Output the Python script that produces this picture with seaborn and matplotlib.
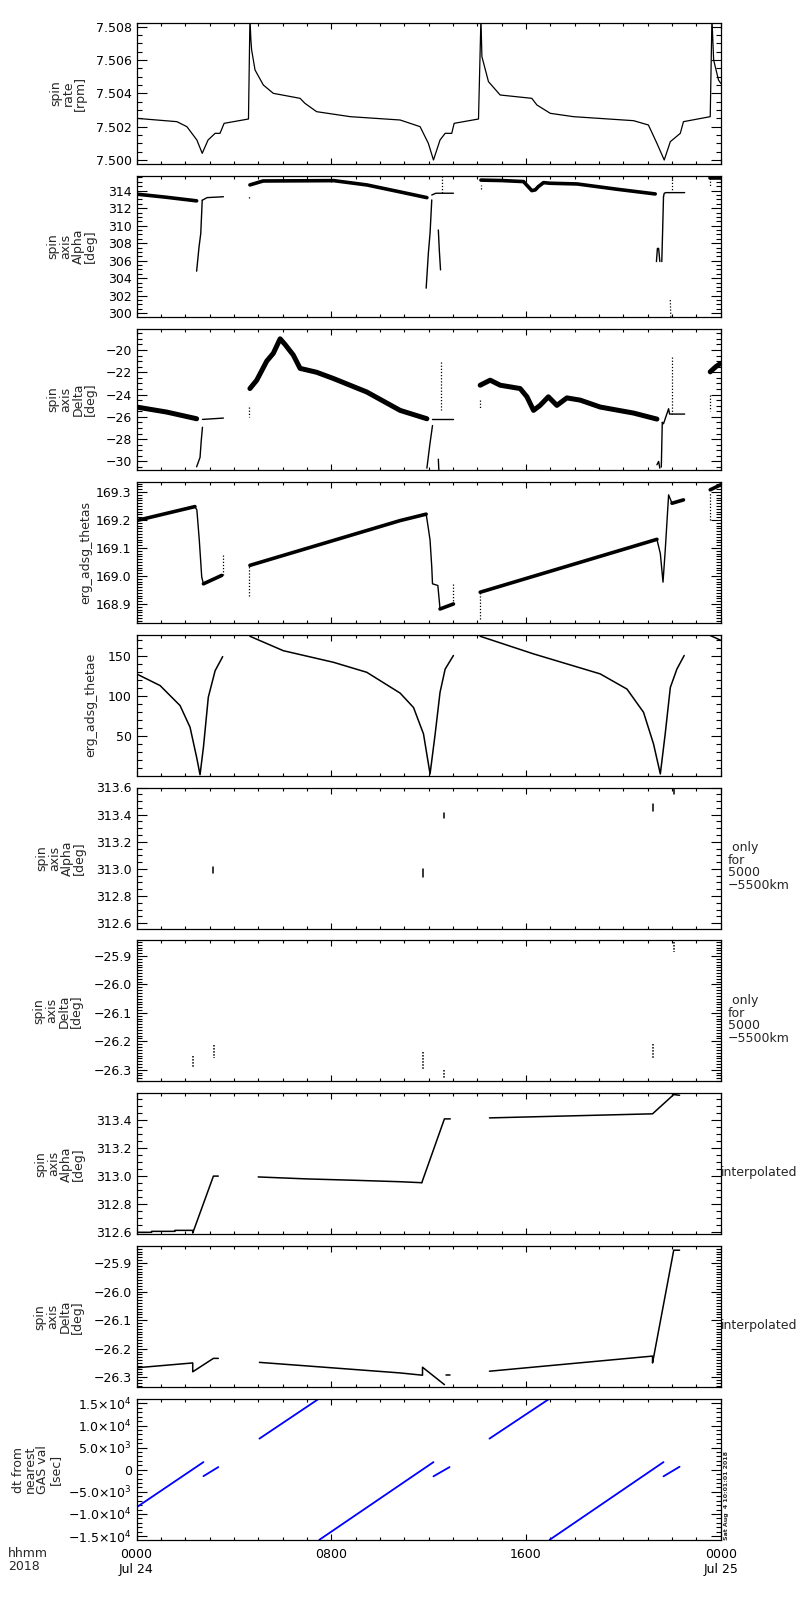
import numpy as np
import pandas as pd
import matplotlib
matplotlib.use("Agg")
import matplotlib.pyplot as plt
import matplotlib.ticker as mticker
import seaborn as sns


# ---- data (time in hours of 2018-07-24) ----

# spin rate [rpm]
rate_line = [
    ([0, 1.66, 2.07, 2.48, 2.70, 2.94, 3.23, 3.43, 3.60, 4.60, 4.66, 4.70, 4.73, 4.87, 5.21,
      5.62, 6.72, 6.92, 7.40, 8.78, 10.83, 11.65, 11.99, 12.20, 12.47, 12.68, 12.95, 13.05,
      14.05, 14.15, 14.19, 14.46, 14.94, 16.24, 16.45, 17.00, 17.95, 20.42, 21.03, 21.38,
      21.68, 21.93, 22.34, 22.47, 23.57, 23.64, 23.71, 23.91, 24.0],
     [7.5025, 7.5023, 7.5020, 7.5012, 7.5004, 7.5012, 7.5016, 7.5016, 7.5022, 7.50246,
      7.5085, 7.5072, 7.5066, 7.5054, 7.5045, 7.5040, 7.5037, 7.5034, 7.5029, 7.5026,
      7.5024, 7.5020, 7.5010, 7.5000, 7.5012, 7.5016, 7.5016, 7.5022, 7.50246, 7.5085,
      7.5062, 7.5047, 7.5039, 7.5037, 7.5033, 7.5028, 7.5026, 7.50236, 7.5021, 7.5010,
      7.5000, 7.5011, 7.5016, 7.5023, 7.5026, 7.5085, 7.5060, 7.5048, 7.5046]),
]

# spin axis alpha [deg]
alpha_band = [
    ([0, 1.2, 2.47], [313.6, 313.25, 312.83]),
    ([4.66, 5.2, 8.1, 9.46, 10.83, 11.93], [314.65, 315.1, 315.14, 314.65, 313.85, 313.2]),
    ([14.15, 15.0, 15.90, 16.24, 16.38, 16.51, 16.72, 17.0, 18.1, 19.73, 21.31],
     [315.2, 315.15, 315.03, 314.0, 314.08, 314.46, 314.91, 314.84, 314.76, 314.16, 313.62]),
    ([23.57, 24.0], [315.4, 315.4]),
]
alpha_line = [
    ([2.47, 2.57, 2.64, 2.70], [304.8, 307.6, 309.1, 312.9]),
    ([2.70, 2.9, 3.57], [312.9, 313.2, 313.3]),
    ([11.90, 11.99, 12.06, 12.13], [302.86, 306.85, 309.14, 312.94]),
    ([12.40, 12.44, 12.49], [309.5, 307.2, 304.95]),
    ([12.13, 12.3, 13.02], [313.5, 313.7, 313.7]),
    ([21.58, 21.62, 21.65], [305.9, 310.0, 313.3]),
    ([21.36, 21.40, 21.45, 21.50], [305.9, 307.4, 307.4, 305.9]),
    ([21.65, 21.68, 21.75, 22.52], [313.3, 313.7, 313.77, 313.77]),
]
alpha_dots = [
    ([4.64, 4.64], [313.2, 313.4]),
    ([12.54, 12.54], [315.7, 313.7]),
    ([14.15, 14.15], [314.2, 314.6]),
    ([21.93, 21.95], [301.5, 299.6]),
    ([22.0, 22.0], [315.7, 313.9]),
    ([23.57, 23.57], [315.4, 314.45]),
]

# spin axis delta [deg]
delta_band = [
    ([0, 1.24, 2.47], [-25.12, -25.57, -26.17]),
    ([4.66, 4.94, 5.35, 5.62, 5.90, 6.10, 6.44, 6.72, 7.40, 8.09, 9.46, 10.83, 11.93],
     [-23.46, -22.71, -21.0, -20.3, -19.0, -19.5, -20.45, -21.65, -22.0, -22.56, -23.77,
      -25.42, -26.17]),
    ([14.12, 14.53, 14.94, 15.76, 16.04, 16.31, 16.58, 16.92, 17.27, 17.68, 18.23, 19.05,
      20.42, 21.38],
     [-23.16, -22.71, -23.16, -23.46, -24.2, -25.42, -24.97, -24.2, -24.97, -24.3, -24.5,
      -25.12, -25.66, -26.2]),
    ([23.57, 23.8, 24.0], [-21.96, -21.5, -21.2]),
]
delta_line = [
    ([2.47, 2.61, 2.66, 2.71], [-30.48, -29.64, -28.13, -26.93]),
    ([2.71, 3.57], [-26.23, -26.11]),
    ([11.93, 12.05, 12.16], [-30.6, -28.5, -26.78]),
    ([12.40, 12.42], [-29.8, -30.75]),
    ([12.16, 13.02], [-26.2, -26.2]),
    ([21.56, 21.60], [-30.5, -26.5]),
    ([21.38, 21.45, 21.5], [-30.3, -30.0, -30.6]),
    ([21.60, 21.65, 21.86, 21.9, 22.52], [-26.5, -26.62, -25.27, -25.75, -25.75]),
]
delta_dots = [
    ([4.64, 4.64], [-25.12, -26.0]),
    ([12.50, 12.50], [-21.05, -25.4]),
    ([14.12, 14.12], [-24.5, -25.3]),
    ([22.0, 22.0], [-20.6, -25.7]),
    ([23.57, 23.57], [-24.0, -25.5]),
]

# erg_adsg_thetas
thetas_band = [
    ([0, 2.4], [169.198, 169.248]),
    ([2.75, 3.5], [168.972, 169.002]),
    ([4.66, 10.83, 11.9], [169.038, 169.198, 169.221]),
    ([12.47, 13.02], [168.882, 168.9]),
    ([14.12, 21.38], [168.942, 169.131]),
    ([22.0, 22.47], [169.26, 169.272]),
    ([23.57, 24.0], [169.308, 169.326]),
]
thetas_line = [
    ([2.4, 2.48, 2.58, 2.68, 2.75], [169.248, 169.236, 169.128, 168.996, 168.972]),
    ([11.90, 11.99, 12.06, 12.13, 12.16, 12.38, 12.47],
     [169.221, 169.17, 169.128, 169.032, 168.972, 168.966, 168.882]),
    ([21.38, 21.52, 21.63, 21.72, 21.86, 22.0], [169.131, 169.08, 168.978, 169.09, 169.29, 169.26]),
]
thetas_dots = [
    ([3.55, 3.55], [169.002, 169.074]),
    ([4.64, 4.64], [168.93, 169.038]),
    ([13.02, 13.02], [168.9, 168.97]),
    ([14.12, 14.12], [168.846, 168.942]),
    ([23.57, 23.57], [169.2, 169.3]),
]

# erg_adsg_thetae
thetae_line = [
    ([0, 0.97, 1.79, 2.2, 2.47, 2.61, 2.75, 2.95, 3.23, 3.54],
     [128, 113.4, 88.4, 61.3, 23.8, 2, 36.3, 98.8, 132, 149.6]),
    ([4.66, 6.03, 8.09, 9.46, 10.83, 11.38, 11.79, 12.06, 12.27, 12.47, 12.68, 13.02],
     [175, 157, 142.5, 130, 104, 86, 53, 3, 53, 105, 134, 151]),
    ([14.12, 16.31, 19.05, 20.15, 20.83, 21.24, 21.52, 21.72, 21.93, 22.2, 22.5],
     [175, 153, 128, 109, 80, 40.5, 3, 53, 111, 134, 151]),
    ([23.57, 24.0], [176, 170]),
]

# spin axis alpha / delta, only for 5000-5500 km
alpha_sel = [
    ([3.16, 3.16], [313.013, 312.97]),
    ([11.75, 11.75], [313.0, 312.94]),
    ([12.65, 12.65], [313.41, 313.375]),
    ([21.22, 21.22], [313.476, 313.43]),
    ([22.09, 22.09], [313.6, 313.555]),
]
delta_sel = [
    ([2.31, 2.31], [-26.25, -26.29]),
    ([3.2, 3.2], [-26.214, -26.259]),
    ([11.75, 11.75], [-26.238, -26.296]),
    ([12.65, 12.65], [-26.3, -26.33]),
    ([21.2, 21.2], [-26.208, -26.26]),
    ([22.09, 22.09], [-25.85, -25.886]),
]

# interpolated
alpha_interp = [
    ([0, 0.62, 0.62, 1.58, 1.58, 2.31, 2.31, 3.16, 3.36],
     [312.6, 312.6, 312.607, 312.607, 312.614, 312.614, 312.595, 313.0, 313.0]),
    ([5.0, 7.0, 9.0, 10.83, 11.72], [312.994, 312.98, 312.97, 312.96, 312.953]),
    ([11.72, 12.65, 12.89], [312.953, 313.407, 313.407]),
    ([14.5, 21.2, 22.07, 22.31], [313.414, 313.443, 313.58, 313.575]),
]
delta_interp = [
    ([0, 2.31, 2.31, 3.16, 3.36], [-26.267, -26.25, -26.281, -26.234, -26.234]),
    ([5.05, 10.83, 11.75, 11.75, 12.65], [-26.248, -26.285, -26.293, -26.265, -26.326]),
    ([12.70, 12.89], [-26.294, -26.294]),
    ([14.5, 21.2, 21.2, 22.07, 22.31], [-26.279, -26.226, -26.25, -25.855, -25.855]),
]

# dt from nearest GAS val [sec]
dt_line = [
    ([0, 2.75], [-8500, 1730]),
    ([2.75, 3.36], [-1450, 600]),
    ([5.05, 7.45], [7040, 15900]),
    ([7.51, 12.2], [-15850, 1730]),
    ([12.2, 12.86], [-1490, 600]),
    ([14.5, 16.92], [7040, 15900]),
    ([16.97, 21.65], [-15850, 1730]),
    ([21.65, 22.31], [-1490, 680]),
]
dt_ticks = [-15000, -10000, -5000, 0, 5000, 10000, 15000]
dt_tick_labels = ["\u22121.5\u00d710$^4$", "\u22121.0\u00d710$^4$", "\u22125.0\u00d710$^3$", "0",
                  "5.0\u00d710$^3$", "1.0\u00d710$^4$", "1.5\u00d710$^4$"]

x_ticks = [0, 8, 16, 24]
x_tick_labels = ["0000\nJul 24", "0800", "1600", "0000\nJul 25"]


# ---- style ----
sns.set_style("ticks")
plt.rcParams["font.family"] = ["DejaVu Sans"]
plt.rcParams["font.size"] = 9
plt.rcParams["axes.linewidth"] = 0.9


def draw(ax, segs, lw, color="black", ls="-"):
    rows = []
    for k, (t, v) in enumerate(segs):
        for i in range(len(t)):
            rows.append({"seg": k, "order": i, "t": t[i], "v": v[i]})
    df = pd.DataFrame(rows)
    sns.lineplot(data=df, x="t", y="v", units="seg", estimator=None, sort=False,
                 color=color, lw=lw, ls=ls, ax=ax, legend=False)


def dec_fmt(d):
    return mticker.FuncFormatter(lambda v, _: f"{v:.{d}f}".replace("-", "\u2212"))


# panel settings: (ylabel, label right edge px, ylim, major, minor, decimals, right text)
alpha_lab = "spin\naxis\nAlpha\n[deg]"
delta_lab = "spin\naxis\nDelta\n[deg]"
only_txt = " only\nfor\n5000\n\u22125500km"
panels = [
    ("spin\nrate\n[rpm]", 87, (7.49976, 7.50822), 0.002, 0.0005, 3, None),
    (alpha_lab, 97, (299.58, 315.68), 2, 0.5, 0, None),
    (delta_lab, 97, (-30.75, -18.1), 2, 0.5, 0, None),
    ("erg_adsg_thetas", 92, (168.833, 169.337), 0.1, 0.01, 1, None),
    ("erg_adsg_thetae", 97, (0.9, 177.1), 50, 10, 0, None),
    (alpha_lab, 86, (312.561, 313.60), 0.2, 0.05, 1, only_txt),
    (delta_lab, 83, (-26.341, -25.845), 0.1, 0.01, 1, only_txt),
    (alpha_lab, 85, (312.586, 313.589), 0.2, 0.05, 1, "interpolated"),
    (delta_lab, 84, (-26.335, -25.841), 0.1, 0.01, 1, "interpolated"),
    ("dt from\nnearest\nGAS val\n[sec]", 62, (-15911, 15980), None, 1000, None, None),
]

W, H = 800, 1600
left_px, width_px = 136.5, 584.2
top0_px, step_px, height_px = 23, 152.9, 141

fig = plt.figure(figsize=(8, 16), dpi=100)
axes = []
for i in range(10):
    top = top0_px + i * step_px
    ax = fig.add_axes([left_px / W, 1 - (top + height_px) / H, width_px / W, height_px / H])
    axes.append(ax)

draw(axes[0], rate_line, 0.9)

draw(axes[1], alpha_band, 2.6)
draw(axes[1], alpha_line, 1.0)
draw(axes[1], alpha_dots, 0.9, ls=(0, (1, 1.5)))

draw(axes[2], delta_band, 3.6)
draw(axes[2], delta_line, 1.0)
draw(axes[2], delta_dots, 0.9, ls=(0, (1, 1.5)))

draw(axes[3], thetas_band, 2.6)
draw(axes[3], thetas_line, 1.0)
draw(axes[3], thetas_dots, 0.9, ls=(0, (1, 1.5)))

draw(axes[4], thetae_line, 1.1)

draw(axes[5], alpha_sel, 1.1)
draw(axes[6], delta_sel, 1.1, ls=(0, (1, 1)))

draw(axes[7], alpha_interp, 1.1)
draw(axes[8], delta_interp, 1.1)

draw(axes[9], dt_line, 1.3, color="#0000ff")

for i, ax in enumerate(axes):
    lab, lab_px, ylim, major, minor, dec, rtxt = panels[i]
    ax.set_xlim(0, 24)
    ax.set_ylim(*ylim)
    ax.xaxis.set_major_locator(mticker.FixedLocator(x_ticks))
    ax.xaxis.set_minor_locator(mticker.MultipleLocator(1))
    if i == 9:
        ax.yaxis.set_major_locator(mticker.FixedLocator(dt_ticks))
        ax.yaxis.set_major_formatter(mticker.FixedFormatter(dt_tick_labels))
        ax.xaxis.set_major_formatter(mticker.FixedFormatter(x_tick_labels))
    else:
        ax.yaxis.set_major_locator(mticker.MultipleLocator(major))
        ax.yaxis.set_major_formatter(dec_fmt(dec))
    ax.yaxis.set_minor_locator(mticker.MultipleLocator(minor))

    ax.tick_params(axis="both", which="both", direction="in", top=True, right=True,
                   colors="black", labelsize=9)
    ax.tick_params(axis="y", which="major", length=7, width=0.8, pad=3.5)
    ax.tick_params(axis="y", which="minor", length=3.6, width=0.8)
    ax.tick_params(axis="x", which="major", length=4.5, width=0.8, pad=6)
    ax.tick_params(axis="x", which="minor", length=2.5, width=0.8)
    if i != 9:
        ax.tick_params(axis="x", labelbottom=False)

    ax.set_xlabel("")
    ax.set_ylabel(lab, fontsize=9, linespacing=0.95)
    ax.yaxis.set_label_coords((lab_px - left_px) / width_px, 0.5)
    for s in ax.spines.values():
        s.set_visible(True)
        s.set_color("black")

    if rtxt == "interpolated":
        ax.text(1.0, 0.44, rtxt, transform=ax.transAxes, ha="left", va="center", fontsize=9)
    elif rtxt is not None:
        ax.text(1.012, 0.44, rtxt, transform=ax.transAxes, ha="left", va="center",
                fontsize=9, linespacing=0.95)

axes[9].text(1.005, 0.0, "Sat Aug  4 10:01:01 2018", transform=axes[9].transAxes,
             rotation=90, ha="left", va="bottom", fontsize=4.5, fontweight="bold")

fig.text(8 / W, 1 - 1547 / H, "hhmm\n2018", ha="left", va="top", fontsize=9,
         linespacing=0.95)

fig.savefig("out.png", dpi=100, facecolor="white")
